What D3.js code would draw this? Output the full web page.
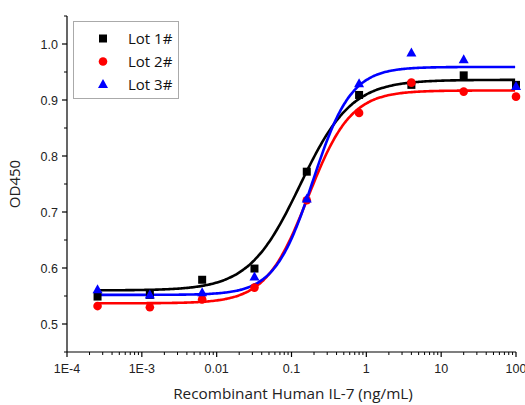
<!DOCTYPE html>
<html><head><meta charset="utf-8">
<script src="https://cdn.jsdelivr.net/npm/d3@7"></script>
<style>body{margin:0;background:#fff}svg{display:block}</style>
</head><body>
<script>
const concentrations = [0.000256, 0.00128, 0.0064, 0.032, 0.16, 0.8, 4, 20, 100];
const lot1 = [0.549, 0.552, 0.579, 0.599, 0.772, 0.909, 0.927, 0.944, 0.927];
const lot2 = [0.532, 0.530, 0.544, 0.565, 0.721, 0.877, 0.931, 0.915, 0.906];
const lot3 = [0.561, 0.552, 0.556, 0.584, 0.723, 0.929, 0.984, 0.972, 0.924];
const seriesNames = ["Lot 1#", "Lot 2#", "Lot 3#"];
const seriesColors = ["#000000", "#ff0000", "#0000ff"];
// 4PL fit parameters: bottom, top, EC50, hill
const fitBottom = [0.560, 0.537, 0.552];
const fitTop = [0.936, 0.917, 0.959];
const fitEC50 = [0.13, 0.167, 0.193];
const fitHill = [1.27, 1.53, 1.70];
const xTickValues = [1e-4, 1e-3, 1e-2, 1e-1, 1, 10, 100];
const xTickLabels = ["1E-4", "1E-3", "0.01", "0.1", "1", "10", "100"];
const yTickValues = [0.5, 0.6, 0.7, 0.8, 0.9, 1.0];

const W = 525, H = 405;
const svg = d3.select("body").append("svg").attr("width", W).attr("height", H);
const x = d3.scaleLog().domain([1e-4, 100]).range([67, 516]);
const y = d3.scaleLinear().domain([0.45, 1.05]).range([352, 16]);

const font = "'Open Sans', 'Noto Sans', sans-serif";
const tickFont = "'Liberation Sans', Arial, sans-serif";

// Axes
const xAxis = svg.append("g").attr("transform", "translate(0,352)");
xAxis.append("line").attr("x1", 67).attr("x2", 516).attr("stroke", "#000").attr("stroke-width", 1.2);
const minorX = [];
for (let e = -4; e < 2; e++) for (let m = 2; m <= 9; m++) minorX.push(m * Math.pow(10, e));
xAxis.selectAll(".mx").data(minorX).enter().append("line")
  .attr("x1", d => x(d)).attr("x2", d => x(d)).attr("y1", 0).attr("y2", 3)
  .attr("stroke", "#000").attr("stroke-width", 1);
xAxis.selectAll(".Mx").data(xTickValues).enter().append("line")
  .attr("x1", d => x(d)).attr("x2", d => x(d)).attr("y1", 0).attr("y2", 5)
  .attr("stroke", "#000").attr("stroke-width", 1.2);
xAxis.selectAll(".xl").data(xTickValues).enter().append("text")
  .attr("x", d => x(d)).attr("y", 21).attr("text-anchor", "middle")
  .attr("font-family", tickFont).attr("font-size", 12.5).attr("fill", "#222")
  .text((d, i) => xTickLabels[i]);

const yAxis = svg.append("g").attr("transform", "translate(67,0)");
yAxis.append("line").attr("y1", 16).attr("y2", 352).attr("stroke", "#000").attr("stroke-width", 1.2);
const minorY = d3.range(0.45, 1.051, 0.1).map(v => +v.toFixed(2));
yAxis.selectAll(".my").data(minorY).enter().append("line")
  .attr("x1", 0).attr("x2", -3).attr("y1", d => y(d)).attr("y2", d => y(d))
  .attr("stroke", "#000");
yAxis.selectAll(".My").data(yTickValues).enter().append("line")
  .attr("x1", 0).attr("x2", -5).attr("y1", d => y(d)).attr("y2", d => y(d))
  .attr("stroke", "#000").attr("stroke-width", 1.2);
yAxis.selectAll(".yl").data(yTickValues).enter().append("text")
  .attr("x", -9).attr("y", d => y(d) + 4.5).attr("text-anchor", "end")
  .attr("font-family", tickFont).attr("font-size", 12.5).attr("fill", "#222")
  .text(d => d.toFixed(1));

svg.append("text").attr("x", 293).attr("y", 399).attr("text-anchor", "middle")
  .attr("font-family", font).attr("font-size", 15.3).attr("fill", "#222")
  .text("Recombinant Human IL-7 (ng/mL)");
svg.append("text").attr("transform", "translate(20,184) rotate(-90)").attr("text-anchor", "middle")
  .attr("font-family", font).attr("font-size", 15).attr("fill", "#222")
  .text("OD450");

// Fit curves
const lots = [lot1, lot2, lot3];
const curveX = d3.range(Math.log10(concentrations[0]), Math.log10(100) + 0.0001, 0.02).map(v => Math.pow(10, v));
const line = d3.line().x(d => x(d[0])).y(d => y(d[1])).curve(d3.curveMonotoneX);
lots.forEach((vals, i) => {
  const pts = curveX.map(c => [c, fitBottom[i] + (fitTop[i] - fitBottom[i]) / (1 + Math.pow(fitEC50[i] / c, fitHill[i]))]);
  svg.append("path").attr("d", line(pts)).attr("fill", "none")
    .attr("stroke", seriesColors[i]).attr("stroke-width", 2.6);
});

// Markers
function marker(g, i, cx, cy) {
  if (i === 0) g.append("rect").attr("x", cx - 4).attr("y", cy - 4).attr("width", 8).attr("height", 8).attr("fill", seriesColors[i]);
  else if (i === 1) g.append("circle").attr("cx", cx).attr("cy", cy).attr("r", 4.3).attr("fill", seriesColors[i]);
  else g.append("path").attr("d", `M${cx},${cy - 5.5}L${cx + 5},${cy + 3.5}L${cx - 5},${cy + 3.5}Z`).attr("fill", seriesColors[i]);
}
lots.forEach((vals, i) => {
  const g = svg.append("g");
  vals.forEach((v, j) => marker(g, i, x(concentrations[j]), y(v)));
});

// Legend
const lg = svg.append("g");
lg.append("rect").attr("x", 73.5).attr("y", 21.5).attr("width", 105).attr("height", 77)
  .attr("fill", "#fff").attr("stroke", "#aaa").attr("stroke-width", 1);
seriesNames.forEach((n, i) => {
  const cy = 38.5 + i * 23;
  marker(lg, i, 103, cy);
  lg.append("text").attr("x", 128).attr("y", cy + 5.5).attr("font-family", font)
    .attr("font-size", 15).attr("fill", "#111").text(n);
});
</script>
</body></html>
